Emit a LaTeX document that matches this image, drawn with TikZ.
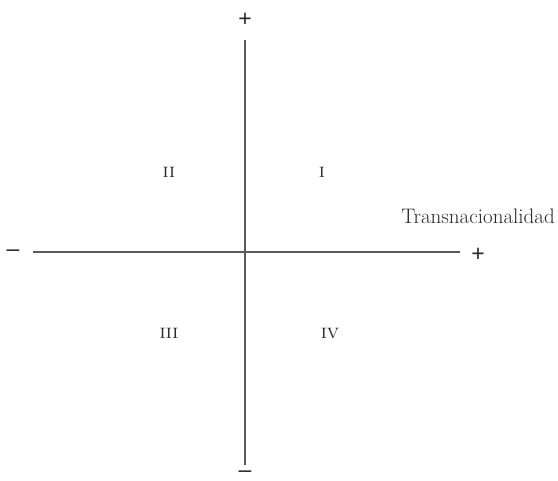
\documentclass[tikz,border=0pt]{standalone}
\usepackage{fontspec}
\newfontfamily\signfont{Liberation Sans}
\begin{document}
\begin{tikzpicture}[x=1pt,y=-1pt,
  axis/.style={draw=black!65,line width=1.1pt},
  sign/.style={font=\signfont\fontsize{23}{26}\selectfont,text=black!85,inner sep=0pt},
  quad/.style={font=\fontsize{20}{22}\selectfont\scshape,text=black!85,inner sep=0pt},
  lab/.style={font=\fontsize{21}{24}\selectfont,text=black!85,inner sep=0pt}]
\useasboundingbox (0,0) rectangle (558,481);
\coordinate (vt) at (245,40);
\coordinate (vb) at (245,465);
\coordinate (hl) at (33,252);
\coordinate (hr) at (460,252);
\draw[axis] (vt) -- (vb);
\draw[axis] (hl) -- (hr);
\node[sign] (ptop) at (245,20) {+};
\node[sign] (mbot) at (245,474) {–};
\node[sign] (mleft) at (13,253) {–};
\node[sign] (pright) at (478,255) {+};
\node[lab] (trans) at (478,216) {Transnacionalidad};
\node[quad] (q2) at (169,172) {ii};
\node[quad] (q1) at (322,172) {i};
\node[quad] (q3) at (169,333) {iii};
\node[quad] (q4) at (330,333) {iv};
\end{tikzpicture}
\end{document}
